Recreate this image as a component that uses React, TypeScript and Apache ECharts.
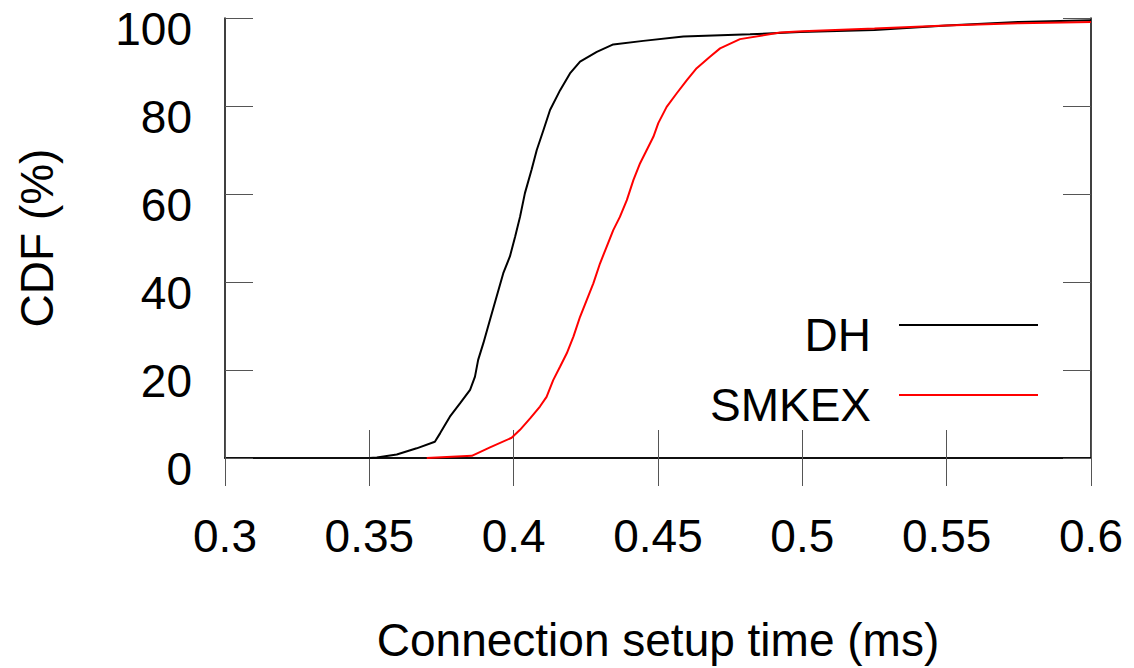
import React, { useEffect, useRef } from "react";
import * as echarts from "echarts";

// Connection setup time (ms) vs CDF (%)
const dhX = [0.35, 0.3526, 0.3595, 0.3664, 0.3727, 0.3745, 0.3779, 0.3814, 0.3849, 0.3866, 0.3877, 0.3895, 0.3918, 0.3941, 0.3964, 0.3987, 0.4005, 0.4022, 0.4039, 0.4062, 0.408, 0.4103, 0.4126, 0.4161, 0.4195, 0.423, 0.4288, 0.4345, 0.4449, 0.4588, 0.4819, 0.4992, 0.525, 0.55, 0.575, 0.6];
const dhY = [0, 0.1, 0.8, 2.2, 3.7, 5.6, 9.4, 12.4, 15.5, 18.5, 22.3, 26.1, 31.4, 36.7, 42, 45.8, 50.3, 54.8, 60.2, 65.5, 70, 74.5, 79.1, 83.6, 87.4, 90.1, 92.3, 94, 94.8, 95.8, 96.3, 96.8, 97.3, 98.3, 99.1, 99.5];

const smkexX = [0.3699, 0.3855, 0.3918, 0.3993, 0.4022, 0.4057, 0.4091, 0.4114, 0.4137, 0.4161, 0.4184, 0.4207, 0.423, 0.4253, 0.4276, 0.4299, 0.4322, 0.4345, 0.4368, 0.4392, 0.4415, 0.4438, 0.4461, 0.4484, 0.4501, 0.453, 0.4565, 0.46, 0.4634, 0.468, 0.4715, 0.4784, 0.4923, 0.5, 0.525, 0.55, 0.575, 0.6];
const smkexY = [0, 0.5, 2.4, 4.6, 6.4, 9, 11.7, 13.9, 17.7, 20.8, 23.8, 27.6, 32.1, 35.9, 39.7, 44.2, 48, 51.8, 54.8, 58.6, 63.2, 67, 70, 73, 76.1, 79.8, 82.9, 85.9, 88.6, 91.2, 93.1, 95.2, 96.7, 97, 97.6, 98.3, 98.8, 99.1];

const seriesNames = ["DH", "SMKEX"];
const xTicks = { min: 0.3, max: 0.6, step: 0.05 };
const yTicks = { min: 0, max: 100, step: 20 };

const FONT = "'Liberation Sans', Arial, Helvetica, sans-serif";

export default function App() {
  const ref = useRef<HTMLDivElement>(null);

  useEffect(() => {
    if (!ref.current) return;
    const chart = echarts.init(ref.current, undefined, { renderer: "svg" });

    const pairs = (xs: number[], ys: number[]) => xs.map((x, i) => [x, ys[i]]);
    const tickStyle = { show: true, inside: true, length: 28, lineStyle: { color: "#555", width: 1 } };
    const lineStyle = { show: true, lineStyle: { color: "#000", width: 1.5 } };
    const label = { color: "#000", fontFamily: FONT, fontSize: 46 };

    chart.setOption({
      animation: false,
      backgroundColor: "#fff",
      grid: {
        left: 225,
        top: 18,
        right: 43,
        bottom: 210,
        containLabel: false,
        outerBoundsMode: "none",
      },
      xAxis: [
        {
          type: "value",
          min: xTicks.min,
          max: xTicks.max,
          interval: xTicks.step,
          axisLine: lineStyle,
          axisTick: tickStyle,
          splitLine: { show: false },
          axisLabel: {
            ...label,
            margin: 55,
            formatter: (v: number) => String(+v.toFixed(2)),
          },
          name: "Connection setup time (ms)",
          nameLocation: "middle",
          nameGap: 159,
          nameTextStyle: { ...label },
        },
        {
          type: "value",
          position: "top",
          min: xTicks.min,
          max: xTicks.max,
          interval: xTicks.step,
          axisLine: lineStyle,
          axisTick: tickStyle,
          axisLabel: { show: false },
          splitLine: { show: false },
        },
      ],
      yAxis: [
        {
          type: "value",
          min: yTicks.min,
          max: yTicks.max,
          interval: yTicks.step,
          axisLine: lineStyle,
          axisTick: tickStyle,
          splitLine: { show: false },
          axisLabel: { ...label, margin: 33, verticalAlign: "top", lineHeight: 21 },
          name: "CDF (%)",
          nameLocation: "middle",
          nameGap: 165,
          nameTextStyle: { ...label },
        },
        {
          type: "value",
          position: "right",
          min: yTicks.min,
          max: yTicks.max,
          interval: yTicks.step,
          axisLine: lineStyle,
          axisTick: tickStyle,
          axisLabel: { show: false },
          splitLine: { show: false },
        },
      ],
      series: [
        {
          name: seriesNames[0],
          type: "line",
          data: pairs(dhX, dhY),
          showSymbol: false,
          lineStyle: { color: "#000", width: 2 },
          itemStyle: { color: "#000" },
          z: 3,
        },
        {
          name: seriesNames[1],
          type: "line",
          data: pairs(smkexX, smkexY),
          showSymbol: false,
          lineStyle: { color: "#ff0000", width: 2 },
          itemStyle: { color: "#ff0000" },
          z: 4,
        },
      ],
      graphic: [
        { type: "text", right: 1134 - 871, top: 312, style: { text: seriesNames[0], fill: "#000", font: `46px ${FONT}` } },
        { type: "line", shape: { x1: 899, y1: 325, x2: 1038, y2: 325 }, style: { stroke: "#000", lineWidth: 2 } },
        { type: "text", right: 1134 - 871, top: 382, style: { text: seriesNames[1], fill: "#000", font: `46px ${FONT}` } },
        { type: "line", shape: { x1: 899, y1: 395, x2: 1038, y2: 395 }, style: { stroke: "#ff0000", lineWidth: 2 } },
      ],
    });

    return () => chart.dispose();
  }, []);

  return (
    <div
      ref={ref}
      style={{ position: "fixed", left: 0, top: 0, width: 1134, height: 668, background: "#fff" }}
    />
  );
}
